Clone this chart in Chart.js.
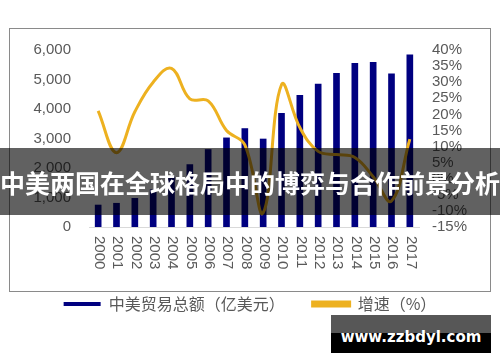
<!DOCTYPE html>
<html>
<head>
<meta charset="utf-8">
<script src="https://cdn.jsdelivr.net/npm/chart.js"></script>
<style>
  body { margin: 0; background: #fff; }
  #wrap { position: relative; width: 500px; height: 362px; overflow: hidden; }
  #frame { position: absolute; left: 9px; top: 28px; width: 480px; height: 262px; border: 1px solid #8a8a8a; }
  #band { position: absolute; left: 0; top: 148px; width: 500px; height: 67px; background: rgba(0,0,0,0.62);
          color: #fff; font: bold 25px "Noto Sans CJK SC", sans-serif; line-height: 69px; text-align: center; white-space: nowrap; }
  #mark { position: absolute; left: 331px; top: 315px; width: 160px; height: 38px;
          background: linear-gradient(#575757 0, #575757 18px, #000 18px, #000 100%);
          color: #fff; font: bold 15px "DejaVu Sans", sans-serif; text-align: center; line-height: 44px; }
</style>
</head>
<body>
<div id="wrap">
  <div id="frame"></div>
  <canvas id="tradeChart" width="500" height="362" style="position:absolute;left:0;top:0;"></canvas>
  <div id="band">中美两国在全球格局中的博弈与合作前景分析</div>
  <div id="mark">www.zzbdyl.com</div>
</div>
<script>
const years = ['2000','2001','2002','2003','2004','2005','2006','2007','2008','2009','2010','2011','2012','2013','2014','2015','2016','2017'];
const tradeTotal = [745, 805, 972, 1263, 1696, 2116, 2627, 3021, 3337, 2983, 3853, 4467, 4847, 5210, 5551, 5583, 5196, 5837];
const growthRate = [21.1, 8.1, 20.8, 30.0, 34.3, 24.8, 24.2, 15.0, 10.5, -10.6, 29.2, 15.9, 8.5, 7.5, 6.6, 0.6, -6.9, 12.3];
const leftTicks = [0, 1000, 2000, 3000, 4000, 5000, 6000];
const rightTicks = [-15, -10, -5, 0, 5, 10, 15, 20, 25, 30, 35, 40];

const grey = '#595959';
const tickFont = { family: '"Liberation Sans", Arial, sans-serif', size: 15 };

// rotated year labels, reading top to bottom
const yearLabels = {
  id: 'yearLabels',
  afterDraw(chart) {
    const ctx = chart.ctx;
    const xs = chart.scales.x;
    ctx.save();
    ctx.fillStyle = grey;
    ctx.font = '15px "Liberation Sans", Arial, sans-serif';
    ctx.textAlign = 'left';
    ctx.textBaseline = 'middle';
    years.forEach((y, i) => {
      ctx.save();
      ctx.translate(xs.getPixelForValue(i) + 1, chart.chartArea.bottom + 9);
      ctx.rotate(Math.PI / 2);
      ctx.fillText(y, 0, 0);
      ctx.restore();
    });
    ctx.restore();
  }
};

new Chart(document.getElementById('tradeChart'), {
  data: {
    labels: years,
    datasets: [
      {
        type: 'bar',
        label: '中美贸易总额（亿美元）',
        data: tradeTotal,
        yAxisID: 'y',
        backgroundColor: '#000080',
        borderWidth: 0,
        barThickness: 6,
        order: 1
      },
      {
        type: 'line',
        label: '增速（%）',
        data: growthRate,
        yAxisID: 'y1',
        borderColor: '#EDB120',
        backgroundColor: '#EDB120',
        borderWidth: 3,
        pointRadius: 0,
        tension: 0.4,
        order: 0
      }
    ]
  },
  options: {
    responsive: false,
    animation: false,
    layout: { padding: { left: 0, right: 0, top: 50, bottom: 40 } },
    plugins: {
      tooltip: { enabled: false },
      legend: {
        position: 'bottom',
        labels: {
          boxWidth: 37,
          boxHeight: 4,
          padding: 28,
          color: grey,
          font: { family: '"Noto Sans CJK SC", sans-serif', size: 16 },
          sort: (a, b) => a.datasetIndex - b.datasetIndex
        }
      }
    },
    scales: {
      x: {
        grid: { display: false },
        border: { display: true, color: '#d9d9d9', width: 1 },
        ticks: { display: false },
        afterFit: s => { s.height = 41; }
      },
      y: {
        position: 'left',
        min: 0, max: 6000,
        afterBuildTicks: s => { s.ticks = leftTicks.map(v => ({ value: v })); },
        grid: { display: false, drawTicks: false },
        border: { display: false },
        ticks: { autoSkip: false, color: grey, font: tickFont, padding: 18, callback: v => v.toLocaleString('en-US') },
        afterFit: s => { s.width = 89; }
      },
      y1: {
        position: 'right',
        min: -15, max: 40,
        afterBuildTicks: s => { s.ticks = rightTicks.map(v => ({ value: v })); },
        grid: { display: false, drawTicks: false },
        border: { display: false },
        ticks: { autoSkip: false, color: grey, font: tickFont, padding: 13, callback: v => v + '%' },
        afterFit: s => { s.width = 81; }
      }
    }
  },
  plugins: [yearLabels]
});
</script>
</body>
</html>
